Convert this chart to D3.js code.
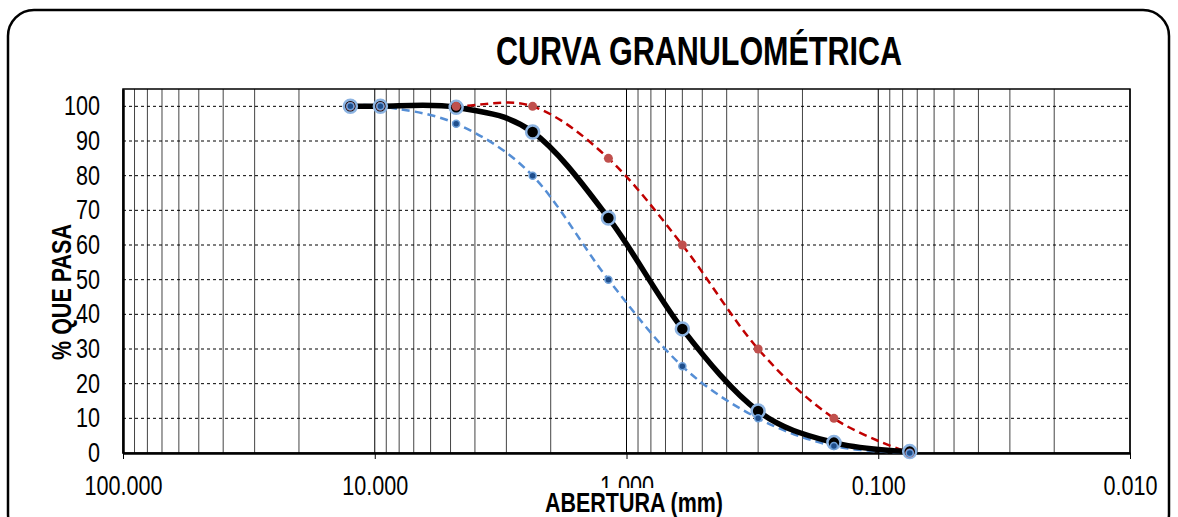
<!DOCTYPE html>
<html lang="es">
<head>
<meta charset="UTF-8" />
<title>Curva granulométrica</title>
<script src="https://d3js.org/d3.v7.min.js"></script>
<style>
  body { margin: 0; padding: 0; background: #fff; }
  text { font-family: "Liberation Sans", Arial, sans-serif; fill: #000; }
  .tick-label { font-size: 27px; }
  .axis-title { font-size: 28px; font-weight: bold; }
</style>
</head>
<body>
<div id="chart"></div>
<script>
  // ---- data ----
  const sieveSizes = [12.5, 9.5, 4.75, 2.36, 1.18, 0.6, 0.3, 0.15, 0.075];   // mm
  const sample     = [100, 100, 99.7, 92.6, 67.8, 35.8, 12.1, 3.0, 0.4];     // % passing
  const upperLimit = [100, 100, 100, 100, 85, 60, 30, 10, 0];
  const lowerLimit = [100, 100, 95, 80, 50, 25, 10, 2, 0];
  const xTicks = [100, 10, 1, 0.1, 0.01];
  const yTicks = [0, 10, 20, 30, 40, 50, 60, 70, 80, 90, 100];

  const W = 1178, H = 517;
  const plot = { left: 123, right: 1130, top: 89, bottom: 453 };
  const NARROW = 0.8;   // the original uses a condensed face

  const svg = d3.select("#chart").append("svg")
    .attr("width", W).attr("height", H);

  // outer rounded frame
  svg.append("rect")
    .attr("x", 8).attr("y", 10)
    .attr("width", 1161).attr("height", 530)
    .attr("rx", 26)
    .attr("fill", "#fff").attr("stroke", "#000").attr("stroke-width", 2.5);

  const x = d3.scaleLog().domain([100, 0.01]).range([plot.left, plot.right]);
  const y = d3.scaleLinear().domain([0, 105]).range([plot.bottom, plot.top]);

  // vertical grid (decades + 2..9 minors)
  const vLines = [];
  for (let e = -2; e < 2; e++) {
    for (let k = 1; k <= 9; k++) vLines.push(k * Math.pow(10, e));
  }
  svg.append("g").selectAll("line")
    .data(vLines)
    .join("line")
    .attr("x1", d => x(d)).attr("x2", d => x(d))
    .attr("y1", plot.top).attr("y2", plot.bottom)
    .attr("stroke", (d, i) => i % 9 === 0 ? "#000" : "#444")
    .attr("stroke-width", 1);

  // horizontal dashed grid
  svg.append("g").selectAll("line")
    .data(yTicks.filter(d => d > 0))
    .join("line")
    .attr("x1", plot.left).attr("x2", plot.right)
    .attr("y1", d => y(d)).attr("y2", d => y(d))
    .attr("stroke", "#000").attr("stroke-width", 1)
    .attr("stroke-dasharray", "3,3");

  // plot frame
  svg.append("rect")
    .attr("x", plot.left).attr("y", plot.top)
    .attr("width", plot.right - plot.left).attr("height", plot.bottom - plot.top)
    .attr("fill", "none").attr("stroke", "#000").attr("stroke-width", 1.5);

  // x axis (bottom)
  const xAxis = d3.axisBottom(x)
    .tickValues(xTicks)
    .tickFormat(d3.format(".3f"))
    .tickSize(6)
    .tickSizeOuter(0);
  const gx = svg.append("g")
    .attr("transform", `translate(0,${plot.bottom})`)
    .call(xAxis);
  gx.select(".domain").attr("stroke", "#000").attr("stroke-width", 2.5);
  gx.selectAll(".tick line").attr("stroke", "#000");
  gx.selectAll(".tick text")
    .attr("class", "tick-label")
    .attr("font-size", null).attr("font-family", null)
    .attr("y", 42).attr("dy", 0)
    .attr("transform", `scale(${NARROW},1)`);

  // y axis (left)
  const yAxis = d3.axisLeft(y)
    .tickValues(yTicks)
    .tickSize(0)
    .tickPadding(0);
  const gy = svg.append("g")
    .attr("transform", `translate(${plot.left},0)`)
    .call(yAxis);
  gy.select(".domain").attr("stroke", "#000").attr("stroke-width", 2.5);
  gy.selectAll(".tick text")
    .attr("class", "tick-label")
    .attr("font-size", null).attr("font-family", null)
    .attr("x", -23 / NARROW)
    .attr("transform", `scale(${NARROW},1)`);

  // titles
  svg.append("text")
    .attr("x", 699).attr("y", 65)
    .attr("text-anchor", "middle")
    .attr("font-size", 40).attr("font-weight", "bold")
    .attr("textLength", 406).attr("lengthAdjust", "spacingAndGlyphs")
    .text("CURVA GRANULOMÉTRICA");

  // x title sits on a white box, as in the original (it covers part of "1.000")
  svg.append("rect")
    .attr("x", 541).attr("y", 488)
    .attr("width", 186).attr("height", 29)
    .attr("fill", "#fff");
  svg.append("text")
    .attr("class", "axis-title")
    .attr("x", 634).attr("y", 512)
    .attr("text-anchor", "middle")
    .attr("textLength", 178).attr("lengthAdjust", "spacingAndGlyphs")
    .text("ABERTURA (mm)");

  svg.append("text")
    .attr("class", "axis-title")
    .attr("transform", `translate(71,292) rotate(-90)`)
    .attr("text-anchor", "middle")
    .attr("textLength", 136).attr("lengthAdjust", "spacingAndGlyphs")
    .text("% QUE PASA");

  // curves
  const line = d3.line()
    .x(d => x(d[0]))
    .y(d => y(d[1]))
    .curve(d3.curveCardinal.tension(0));

  const zipped = vals => sieveSizes.map((s, i) => [s, vals[i]]);

  const series = [
    { values: lowerLimit, stroke: "#558ed5", width: 2.5, dash: "8,5", r: 3.5, fill: "#1f4e8c", mStroke: "#6d9fd8", mWidth: 1.5 },
    { values: upperLimit, stroke: "#c00000", width: 2.5, dash: "8,5", r: 4.5, fill: "#c0504d", mStroke: "#c0504d", mWidth: 0 },
    { values: sample,     stroke: "#000",    width: 5.5, dash: null,  r: 6.5, fill: "#000",    mStroke: "#8db4e2", mWidth: 2.5 }
  ];

  // draw lines, then markers (black series on top)
  series.forEach(s => {
    svg.append("path")
      .datum(zipped(s.values))
      .attr("d", line)
      .attr("fill", "none")
      .attr("stroke", s.stroke)
      .attr("stroke-width", s.width)
      .attr("stroke-dasharray", s.dash);
  });
  [series[2], series[1], series[0]].forEach(s => {
    svg.append("g").selectAll("circle")
      .data(zipped(s.values))
      .join("circle")
      .attr("cx", d => x(d[0]))
      .attr("cy", d => y(d[1]))
      .attr("r", s.r)
      .attr("fill", s.fill)
      .attr("stroke", s.mStroke)
      .attr("stroke-width", s.mWidth);
  });
</script>
</body>
</html>
